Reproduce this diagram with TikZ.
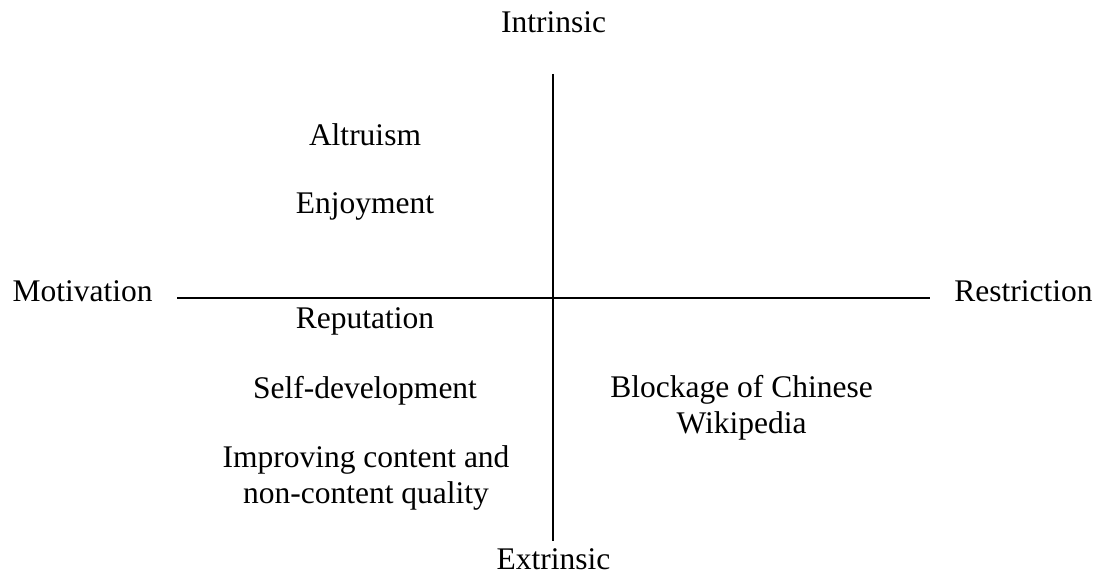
\documentclass[tikz,border=0pt]{standalone}
\usepackage{fontspec}
\setmainfont{Liberation Serif}
\begin{document}
\begin{tikzpicture}[x=0.5pt,y=-0.5pt,lbl/.style={anchor=base,inner sep=0pt,font=\fontsize{15.75}{18}\selectfont,align=center}]
\useasboundingbox(0,0)rectangle(1105,576);
\coordinate(top)at(553,74);
\coordinate(bot)at(553,541);
\coordinate(lft)at(177,298);
\coordinate(rgt)at(930,298);
\draw[line width=1pt](top)--(bot);
\draw[line width=1pt](lft)--(rgt);
\node[lbl](intr)at(553.5,33){Intrinsic};
\node[lbl](extr)at(553.5,570){Extrinsic};
\node[lbl](motiv)at(82.5,302){Motivation};
\node[lbl](restr)at(1023.5,302){Restriction};
\foreach \n/\y/\t in {altr/146/Altruism,enjoy/214/Enjoyment,repu/329/Reputation,self/399/Self-development}{\node[lbl](\n)at(365,\y){\t};}
\node[lbl](impr)at(366,504){Improving content and\\non-content quality};
\node[lbl](block)at(741.5,434){Blockage of Chinese\\Wikipedia};
\end{tikzpicture}
\end{document}
